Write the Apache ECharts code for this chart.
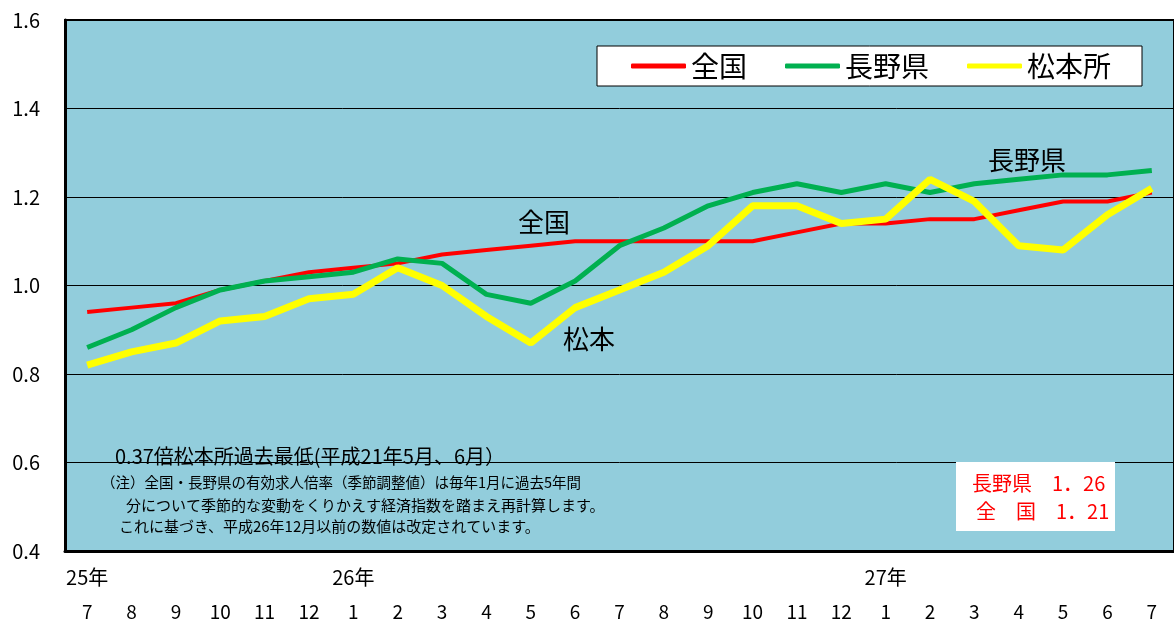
<!DOCTYPE html>
<html>
<head>
<meta charset="utf-8">
<script src="https://cdn.jsdelivr.net/npm/echarts@6/dist/echarts.min.js"></script>
<style>
  html, body { margin: 0; padding: 0; background: #fff; }
  #chart { width: 1174px; height: 623px; }
</style>
</head>
<body>
<div id="chart"></div>
<script>
const months = ['7','8','9','10','11','12','1','2','3','4','5','6','7','8','9','10','11','12','1','2','3','4','5','6','7'];
const years = ['25年','','','','','','26年','','','','','','','','','','','','27年','','','','','',''];
const seriesNames = ['全国', '長野県', '松本所'];
const zenkoku = [0.94,0.95,0.96,0.99,1.01,1.03,1.04,1.05,1.07,1.08,1.09,1.10,1.10,1.10,1.10,1.10,1.12,1.14,1.14,1.15,1.15,1.17,1.19,1.19,1.21];
const nagano = [0.86,0.90,0.95,0.99,1.01,1.02,1.03,1.06,1.05,0.98,0.96,1.01,1.09,1.13,1.18,1.21,1.23,1.21,1.23,1.21,1.23,1.24,1.25,1.25,1.26];
const matsumoto = [0.82,0.85,0.87,0.92,0.93,0.97,0.98,1.04,1.00,0.93,0.87,0.95,0.99,1.03,1.09,1.18,1.18,1.14,1.15,1.24,1.19,1.09,1.08,1.16,1.22];
const yTicks = [0.4, 1.6, 0.2]; // min, max, interval

const FONT = "'Noto Sans CJK JP', sans-serif";
const chart = echarts.init(document.getElementById('chart'));

function txt(text, left, top, size, color) {
  return {
    type: 'text', left: left, top: top, z: 100,
    style: { text: text, fontSize: size, fontFamily: FONT, fill: color || '#000' }
  };
}

chart.setOption({
  animation: false,
  textStyle: { fontFamily: FONT },
  grid: {
    left: 65, top: 20, right: -10, bottom: 72,
    show: true, backgroundColor: '#92CDDC', borderColor: '#000', borderWidth: 2
  },
  legend: {
    data: seriesNames,
    left: 597, top: 46,
    padding: [6, 31, 6, 34],
    itemGap: 38, itemWidth: 55, itemHeight: 5,
    icon: 'roundRect',
    backgroundColor: '#fff', borderColor: '#000', borderWidth: 1,
    textStyle: { fontSize: 28, color: '#000', fontFamily: FONT }
  },
  xAxis: [
    {
      type: 'category', data: months, boundaryGap: true,
      axisLine: { lineStyle: { color: '#000', width: 3 } },
      axisTick: { show: false },
      axisLabel: { interval: 0, margin: 51, fontSize: 19, color: '#000' }
    },
    {
      type: 'category', data: years, position: 'bottom', boundaryGap: true,
      axisLine: { show: false }, axisTick: { show: false }, splitLine: { show: false },
      axisLabel: { interval: 0, margin: 16, fontSize: 20, color: '#000' }
    }
  ],
  yAxis: {
    type: 'value', min: yTicks[0], max: yTicks[1], interval: yTicks[2],
    axisLine: { show: true, lineStyle: { color: '#000', width: 3 } },
    axisTick: { show: false },
    axisLabel: { margin: 25, fontSize: 20, color: '#000', formatter: v => v.toFixed(1) },
    splitLine: { lineStyle: { color: '#000', width: 1 } }
  },
  series: [
    { name: seriesNames[0], type: 'line', data: zenkoku, showSymbol: false, symbol: 'none',
      itemStyle: { color: '#FF0000' }, lineStyle: { color: '#FF0000', width: 4 } },
    { name: seriesNames[1], type: 'line', data: nagano, showSymbol: false, symbol: 'none',
      itemStyle: { color: '#00B050' }, lineStyle: { color: '#00B050', width: 5 } },
    { name: seriesNames[2], type: 'line', data: matsumoto, showSymbol: false, symbol: 'none',
      itemStyle: { color: '#FFFF00' }, lineStyle: { color: '#FFFF00', width: 7 } }
  ],
  graphic: [
    txt('全国', 518, 209, 26),
    txt('長野県', 988, 147, 26),
    txt('松本', 563, 326, 26),
    txt('0.37倍松本所過去最低(平成21年5月、6月）', 115, 446, 20),
    txt('（注）全国・長野県の有効求人倍率（季節調整値）は毎年1月に過去5年間', 101, 475, 14.5),
    txt('分について季節的な変動をくりかえす経済指数を踏まえ再計算します。', 126, 498, 15),
    txt('これに基づき、平成26年12月以前の数値は改定されています。', 119, 519, 15),
    {
      type: 'rect', z: 99,
      shape: { x: 956, y: 462, width: 159, height: 69 },
      style: { fill: '#fff' }
    },
    txt('長野県　1．26', 972, 473, 20, '#FF0000'),
    txt('全　国　1．21', 976, 501, 20, '#FF0000')
  ]
});
</script>
</body>
</html>
